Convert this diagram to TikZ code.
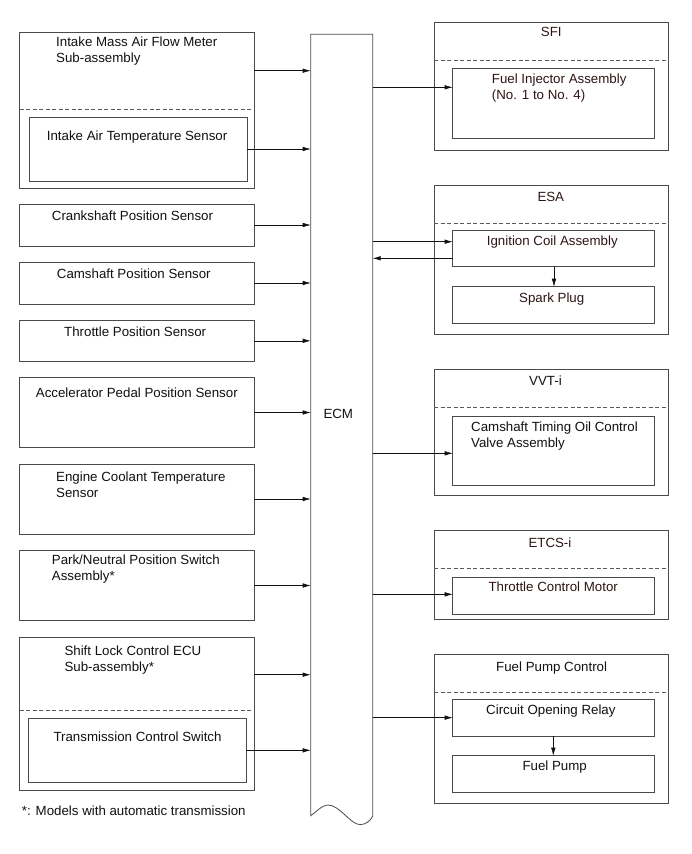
\documentclass[tikz,border=0pt]{standalone}
\usepackage{fontspec}
\setmainfont{Liberation Sans}
\usetikzlibrary{arrows.meta}
\definecolor{edge}{HTML}{4A4A4A}
\definecolor{dashc}{HTML}{5A5A5A}
\definecolor{ink}{HTML}{111111}
\definecolor{brownink}{HTML}{2E1414}
\newcommand\lbl{\fontsize{13.3}{15.8}\selectfont}
\tikzset{
  x=1pt, y=-1pt,
  box/.style={draw=edge, line width=0.8pt, rectangle, inner sep=0pt, outer sep=0pt, anchor=north west},
  divider/.style={draw=dashc, line width=0.8pt, dash pattern=on 4pt off 2.5pt},
  % base west of a multi-line label sits on its last line
  txt/.style={font=\lbl, text=ink, inner sep=0pt, anchor=base west, align=left},
  btxt/.style={txt, text=brownink},
  arr/.style={draw=ink, line width=0.6pt, -{Latex[length=8pt,width=4.5pt]}},
}
\begin{document}
\begin{tikzpicture}
\useasboundingbox[fill=white] (0,0) rectangle (691,854);

% ---------- sensors (left column) ----------
\node[box, minimum width=234.5pt, minimum height=155.5pt] (maf) at (19.5,32.5) {};
\draw[divider] (maf.west |- 0,109) -- (maf.east |- 0,109);
\node[box, minimum width=217.3pt, minimum height=64pt] (iat) at (29.7,117) {};
\coordinate (mafout) at (254,70.7);
\node[txt] (tmaf) at (56,62.5) {Intake Mass Air Flow Meter\\Sub-assembly};
\node[txt] (tiat) at (46.7,140) {Intake Air Temperature Sensor};

\node[box, minimum width=234.5pt, minimum height=42pt] (ckp) at (19.5,204) {};
\node[txt] (tckp) at (51.7,220.7) {Crankshaft Position Sensor};

\node[box, minimum width=234.5pt, minimum height=42pt] (cmp) at (19.5,262) {};
\node[txt] (tcmp) at (56.7,278.3) {Camshaft Position Sensor};

\node[box, minimum width=234.5pt, minimum height=41.7pt] (tps) at (19.5,320) {};
\node[txt] (ttps) at (64,336) {Throttle Position Sensor};

\node[box, minimum width=234.5pt, minimum height=70.4pt] (app) at (19.5,377.3) {};
\node[txt] (tapp) at (35.7,397.3) {Accelerator Pedal Position Sensor};

\node[box, minimum width=234.5pt, minimum height=70pt] (ect) at (19.5,464) {};
\node[txt] (tect) at (56,497.3) {Engine Coolant Temperature\\Sensor};

\node[box, minimum width=234.5pt, minimum height=70.4pt] (pnp) at (19.5,550.3) {};
\node[txt] (tpnp) at (51.7,580.7) {Park/Neutral Position Switch\\Assembly*};

\node[box, minimum width=234.5pt, minimum height=152.7pt] (slc) at (19.5,637.3) {};
\draw[divider] (slc.west |- 0,710.3) -- (slc.east |- 0,710.3);
\node[box, minimum width=217.6pt, minimum height=64pt] (tcs) at (28.7,718.3) {};
\coordinate (slcout) at (254,674.7);
\node[txt] (tslc) at (64.3,671) {Shift Lock Control ECU\\Sub-assembly*};
\node[txt] (ttcs) at (53.3,741.7) {Transmission Control Switch};

\node[txt] (note) at (21.7,815) {*: Models with automatic transmission};

% ---------- ECM (open, torn-off bottom) ----------
\node[inner sep=0pt, outer sep=0pt, anchor=north west, minimum width=62pt, minimum height=782pt] (ecm) at (310.7,34.3) {};
\draw[edge, line width=0.8pt]
  (ecm.south west) -- (ecm.north west) -- (ecm.north east) -- (ecm.south east)
  .. controls ([shift={(-3,5)}]ecm.south east) and ([shift={(-7,8.3)}]ecm.south east) .. ([shift={(-12.7,8.3)}]ecm.south east)
  .. controls ([shift={(-22,8.3)}]ecm.south east) and ([shift={(-33,-11)}]ecm.south east) .. ([shift={(-44.4,-11.3)}]ecm.south east)
  .. controls ([shift={(-51,-11.3)}]ecm.south east) and ([shift={(-58,-3)}]ecm.south east) .. ([yshift=0.7pt]ecm.south west);
\node[txt] (tecm) at (323.3,418.3) {ECM};

% ---------- actuators (right column) ----------
\node[box, minimum width=234.5pt, minimum height=128.4pt] (sfi) at (434,22.3) {};
\draw[divider] (sfi.west |- 0,60.7) -- (sfi.east |- 0,60.7);
\node[box, minimum width=201.6pt, minimum height=69.3pt] (inj) at (452.7,68.7) {};
\node[btxt] (tsfi) at (540.7,36.7) {SFI};
\node[btxt] (tinj) at (491.7,99) {Fuel Injector Assembly\\(No. 1 to No. 4)};

\node[box, minimum width=234.5pt, minimum height=149pt] (esa) at (434,185.3) {};
\draw[divider] (esa.west |- 0,223.3) -- (esa.east |- 0,223.3);
\node[box, minimum width=201.6pt, minimum height=36.7pt] (ign) at (452.7,230) {};
\node[box, minimum width=201.6pt, minimum height=36.6pt] (spk) at (452.7,286.7) {};
\node[btxt] (tesa) at (537.3,201.7) {ESA};
\node[btxt] (tign) at (486.7,245.7) {Ignition Coil Assembly};
\node[btxt] (tspk) at (519,302.3) {Spark Plug};

\node[box, minimum width=234.5pt, minimum height=126pt] (vvt) at (434,369.3) {};
\draw[divider] (vvt.west |- 0,407.7) -- (vvt.east |- 0,407.7);
\node[box, minimum width=201.6pt, minimum height=69.7pt] (ocv) at (452.7,416) {};
\node[txt] (tvvt) at (529,385) {VVT-i};
\node[txt] (tocv) at (471,447.3) {Camshaft Timing Oil Control\\Valve Assembly};

\node[box, minimum width=234.5pt, minimum height=88.3pt] (etc) at (434,530.7) {};
\draw[divider] (etc.west |- 0,568.3) -- (etc.east |- 0,568.3);
\node[box, minimum width=201.6pt, minimum height=36.7pt] (tcm) at (452.7,577.3) {};
\node[btxt] (tetc) at (528.3,547.3) {ETCS-i};
\node[btxt] (ttcm) at (488.3,591.7) {Throttle Control Motor};

\node[box, minimum width=234.5pt, minimum height=149pt] (fpc) at (434,654.3) {};
\draw[divider] (fpc.west |- 0,692.3) -- (fpc.east |- 0,692.3);
\node[box, minimum width=201.3pt, minimum height=36.7pt] (cor) at (452.7,699.3) {};
\node[box, minimum width=201.3pt, minimum height=37pt] (fp) at (452.7,755.7) {};
\node[txt] (tfpc) at (496,671.7) {Fuel Pump Control};
\node[txt] (tcor) at (486,714) {Circuit Opening Relay};
\node[txt] (tfp) at (522.3,770) {Fuel Pump};

% ---------- signals into the ECM ----------
\draw[arr] (mafout) -- (ecm.west |- mafout);
\draw[arr] (iat.east) -- (ecm.west |- iat.east);
\draw[arr] (ckp.east) -- (ecm.west |- ckp.east);
\draw[arr] (cmp.east) -- (ecm.west |- cmp.east);
\draw[arr] (tps.east) -- (ecm.west |- tps.east);
\draw[arr] (app.east) -- (ecm.west |- app.east);
\draw[arr] (ect.east) -- (ecm.west |- ect.east);
\draw[arr] (pnp.east) -- (ecm.west |- pnp.east);
\draw[arr] (slcout) -- (ecm.west |- slcout);
\draw[arr] (tcs.east) -- (ecm.west |- tcs.east);

% ---------- ECM outputs ----------
\draw[arr] (ecm.east |- 0,87.3) -- (inj.west |- 0,87.3);
\draw[arr] (ecm.east |- 0,241.7) -- (ign.west |- 0,241.7);
\draw[arr] (ign.west |- 0,258.3) -- (ecm.east |- 0,258.3);
\draw[arr] (ign.south -| 554,0) -- (spk.north -| 554,0);
\draw[arr] (ecm.east |- 0,453.3) -- (ocv.west |- 0,453.3);
\draw[arr] (ecm.east |- 0,594.3) -- (tcm.west |- 0,594.3);
\draw[arr] (ecm.east |- cor.west) -- (cor.west);
\draw[arr] (cor.south -| 553.3,0) -- (fp.north -| 553.3,0);
\end{tikzpicture}
\end{document}
